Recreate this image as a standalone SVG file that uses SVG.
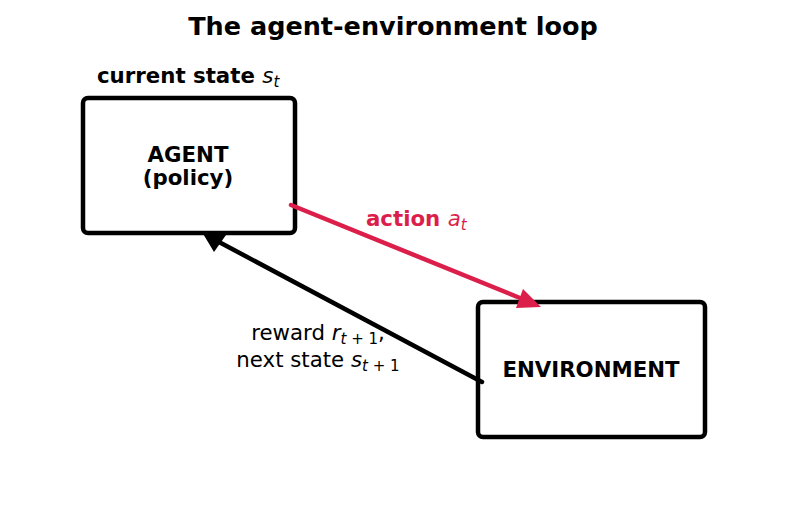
<svg xmlns="http://www.w3.org/2000/svg" width="787" height="512" viewBox="0 0 787 512">
<style>
text{font-family:"DejaVu Sans",sans-serif;fill:#000}
.b{font-weight:bold}
.m{font-style:italic;font-weight:normal}
.box{fill:#fff;stroke:#000;stroke-width:4.5}
.red{fill:#dc1e4b}
</style>
<rect width="787" height="512" fill="#fff"/>
<text class="b" x="393" y="35" font-size="25.5" text-anchor="middle">The agent-environment loop</text>
<g id="agent">
<rect class="box" x="83" y="98" width="212" height="135" rx="5"/>
<text class="b" x="188" y="162" font-size="21.3" text-anchor="middle">AGENT</text>
<text class="b" x="188" y="185" font-size="21.3" text-anchor="middle">(policy)</text>
</g>
<g id="environment">
<rect class="box" x="478" y="302" width="227" height="135" rx="5"/>
<text class="b" x="591" y="377" font-size="21.3" text-anchor="middle">ENVIRONMENT</text>
</g>
<text class="b" x="97" y="83" font-size="21.3">current state <tspan class="m">s</tspan><tspan class="m" font-size="15" dy="4">t</tspan></text>
<g id="connectors">
<line x1="291" y1="205" x2="520" y2="298" stroke="#dc1e4b" stroke-width="4.5" stroke-linecap="round"/>
<polygon class="red" points="541,307 516,308 523,289"/>
<line x1="482" y1="382" x2="219" y2="242" stroke="#000" stroke-width="4.5" stroke-linecap="round"/>
<polygon points="202,232 226,235 214,252"/>
</g>
<text class="b" x="366" y="226" font-size="21.3" style="fill:#dc1e4b">action <tspan class="m">a</tspan><tspan class="m" font-size="15" dy="4">t</tspan></text>
<text x="318" y="340" font-size="21.3" text-anchor="middle">reward <tspan class="m">r</tspan><tspan font-size="15" dy="3.5"><tspan class="m">t</tspan> + 1</tspan><tspan dy="-3.5">,</tspan></text>
<text x="318" y="367" font-size="21.3" text-anchor="middle">next state <tspan class="m">s</tspan><tspan font-size="15" dy="4"><tspan class="m">t</tspan> + 1</tspan></text>
</svg>
